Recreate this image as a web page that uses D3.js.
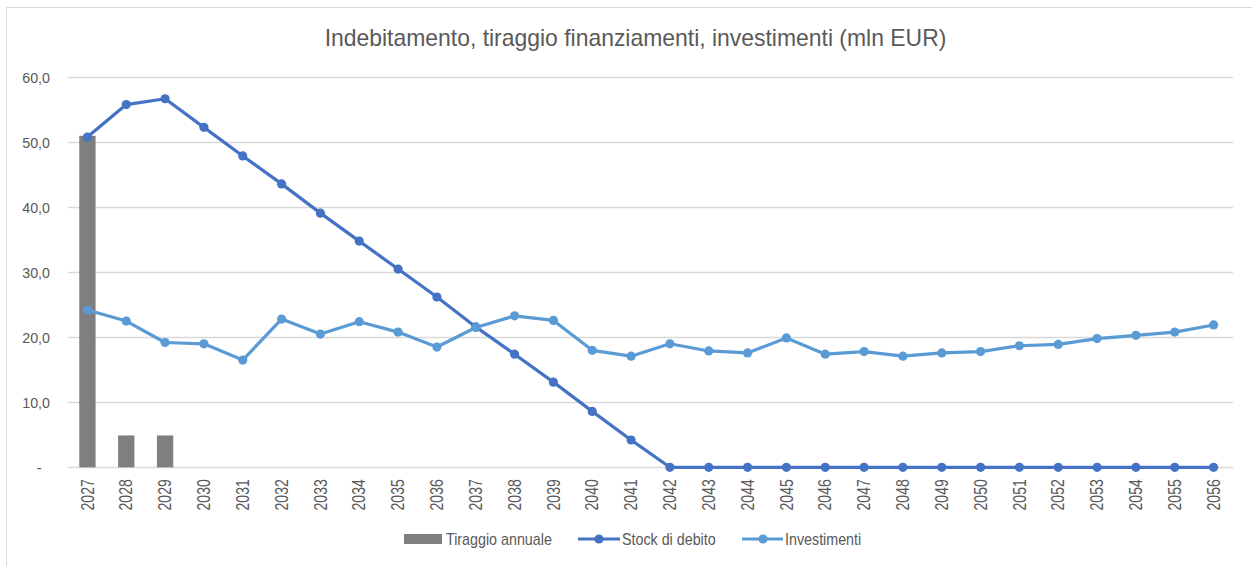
<!DOCTYPE html>
<html><head><meta charset="utf-8">
<script src="https://cdn.jsdelivr.net/npm/d3@7/dist/d3.min.js"></script>
<style>
html,body{margin:0;padding:0;background:#fff;}
svg{display:block;font-family:"Liberation Sans Narrow","Arial Narrow","Liberation Sans",Arial,sans-serif;}
</style></head>
<body>
<svg id="chart" width="1252" height="566"></svg>
<script>
const years = [2027,2028,2029,2030,2031,2032,2033,2034,2035,2036,2037,2038,2039,2040,2041,2042,2043,2044,2045,2046,2047,2048,2049,2050,2051,2052,2053,2054,2055,2056];
const tiraggio = [51.0,4.9,4.9,0,0,0,0,0,0,0,0,0,0,0,0,0,0,0,0,0,0,0,0,0,0,0,0,0,0,0];
const stock = [50.8,55.8,56.7,52.3,47.9,43.6,39.1,34.8,30.5,26.2,21.6,17.4,13.1,8.6,4.2,0,0,0,0,0,0,0,0,0,0,0,0,0,0,0];
const investimenti = [24.2,22.5,19.2,19.0,16.5,22.8,20.5,22.4,20.8,18.5,21.5,23.3,22.6,18.0,17.1,19.0,17.9,17.6,19.9,17.4,17.8,17.1,17.6,17.8,18.7,18.9,19.8,20.3,20.8,21.9];
const yTicks = [0,10,20,30,40,50,60];
const title = "Indebitamento, tiraggio finanziamenti, investimenti (mln EUR)";
const legendLabels = ["Tiraggio annuale","Stock di debito","Investimenti"];

(function(){
const C_BAR = "#7f7f7f", C_STOCK = "#4472c4", C_INV = "#5b9bd5", C_GRID = "#d9d9d9", C_TEXT = "#595959";

// emulate a narrow typeface by compressing text horizontally
function narrow(sel, f){
  sel.each(function(){
    const w = this.getComputedTextLength();
    if (w > 0) d3.select(this).attr("textLength", w*f).attr("lengthAdjust","spacingAndGlyphs");
  });
}

const svg = d3.select("#chart");
svg.append("path").attr("d","M6.5,566 V7.5 H1252").attr("fill","none").attr("stroke","#d9d9d9").attr("stroke-width",1);

const pL = 68, pR = 1233, pT = 77.3, pB = 467.3;
const x = d3.scaleBand().domain(years).range([pL,pR]).paddingInner(0.58).paddingOuter(0.29);
const xc = d => x(d) + x.bandwidth()/2;
const y = d3.scaleLinear().domain([0,60]).range([pB,pT]);

const t = svg.append("text").attr("x",635.5).attr("y",46).attr("text-anchor","middle")
  .attr("fill",C_TEXT).attr("font-size",24).text(title);
narrow(t, 0.955);

svg.append("g").selectAll("line").data(yTicks).join("line")
  .attr("x1",pL).attr("x2",pR).attr("y1",d=>Math.round(y(d))+0.5).attr("y2",d=>Math.round(y(d))+0.5)
  .attr("stroke",C_GRID).attr("stroke-width",1.3);

const yAxis = d3.axisLeft(y).tickValues(yTicks).tickSize(0).tickPadding(0)
  .tickFormat(d => d === 0 ? "-" : d3.format(".1f")(d).replace(".", ","));
const gy = svg.append("g").attr("transform","translate(50,0)").call(yAxis);
gy.select(".domain").remove();
gy.selectAll("text").attr("fill",C_TEXT).attr("font-size",15.5)
  .attr("font-family",null).attr("dy","0.35em");
gy.selectAll("text").filter(d=>d===0).attr("text-anchor","middle").attr("x",-11);
narrow(gy.selectAll("text").filter(d=>d!==0), 0.92);

const xAxis = d3.axisBottom(x).tickSize(0).tickPadding(0);
const gx = svg.append("g").attr("transform",`translate(0,${pB})`).call(xAxis);
gx.select(".domain").remove();
gx.selectAll("text").attr("fill",C_TEXT).attr("font-size",17.5).attr("font-family",null)
  .attr("transform","rotate(-90)").attr("text-anchor","end")
  .attr("x",-12).attr("y",0).attr("dy","0.35em");
narrow(gx.selectAll("text"), 0.8);

svg.append("g").selectAll("rect").data(years.map((d,i)=>({year:d,v:tiraggio[i]})).filter(d=>d.v>0)).join("rect")
  .attr("x",d=>x(d.year)).attr("width",x.bandwidth())
  .attr("y",d=>y(d.v)).attr("height",d=>y(0)-y(d.v)).attr("fill",C_BAR);

function drawLine(vals,color){
  const data = years.map((d,i)=>({year:d,v:vals[i]}));
  svg.append("path").datum(data)
    .attr("d",d3.line().x(d=>xc(d.year)).y(d=>y(d.v)))
    .attr("fill","none").attr("stroke",color).attr("stroke-width",3.2).attr("stroke-linejoin","round");
  svg.append("g").selectAll("circle").data(data).join("circle")
    .attr("cx",d=>xc(d.year)).attr("cy",d=>y(d.v)).attr("r",4.6).attr("fill",color);
}
drawLine(stock,C_STOCK);
drawLine(investimenti,C_INV);

const lg = svg.append("g").attr("font-size",17).attr("fill",C_TEXT);
lg.append("rect").attr("x",404).attr("y",534).attr("width",38).attr("height",10).attr("fill",C_BAR);
lg.append("text").attr("x",446).attr("y",539).attr("dy","0.35em").attr("fill",C_TEXT).text(legendLabels[0]);
[[578,620,599,622,C_STOCK,legendLabels[1]],[742,783,763,785,C_INV,legendLabels[2]]].forEach(([a,b,m,tx,c,l])=>{
  lg.append("line").attr("x1",a).attr("x2",b).attr("y1",539).attr("y2",539).attr("stroke",c).attr("stroke-width",3.2);
  lg.append("circle").attr("cx",m).attr("cy",539).attr("r",4.6).attr("fill",c);
  lg.append("text").attr("x",tx).attr("y",539).attr("dy","0.35em").attr("fill",C_TEXT).text(l);
});
narrow(lg.selectAll("text"), 0.84);
})();
</script>
</body></html>
